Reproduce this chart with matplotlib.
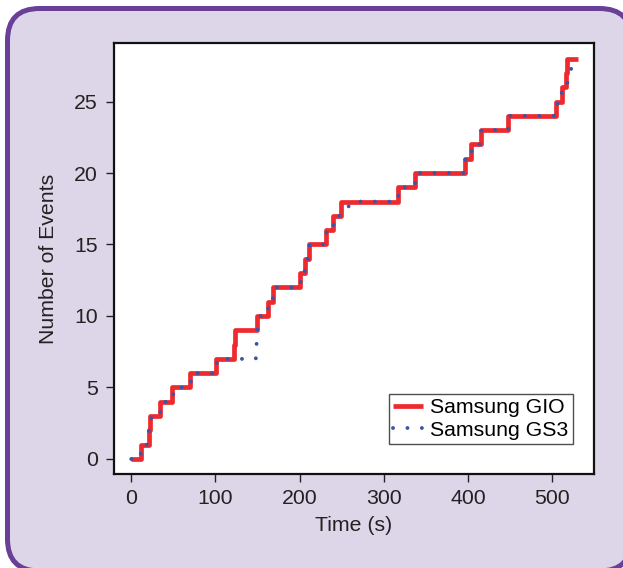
import numpy as np
import matplotlib
matplotlib.use('Agg')
import matplotlib.pyplot as plt
from matplotlib.patches import FancyBboxPatch

plt.rcParams['font.family'] = ['Liberation Sans', 'DejaVu Sans']

# event times of the Samsung GIO (one event per time)
gio_events = [11, 20.5, 22.5, 34, 49, 70, 101, 122.5, 123.5, 149.5, 162, 168,
              201, 206, 211.5, 231, 240, 249.5, 317, 337, 396.5, 403.5, 415.5,
              448, 505, 511.5, 517, 517.5]
gio_end = 530.5

# Samsung GS3 curve, read as vertices (time, count)
gs3_t = [0, 11, 12, 19, 21, 23, 24, 34, 36, 49, 51, 70, 72, 101, 102, 148, 150,
         153, 162, 163, 168, 169, 201, 202, 206, 207, 211, 212, 231, 232, 240,
         241, 251, 262, 317, 318, 337, 338, 396, 397, 404, 405, 415, 416, 448,
         449, 505, 507, 511, 512, 517, 526]
gs3_n = [0, 0, 1, 1, 2, 2, 3, 3, 4, 4, 5, 5, 6, 6, 7, 7, 9.2,
         10, 10, 11, 11, 12, 12, 13, 13, 14, 14, 15, 15, 16, 16,
         17, 17, 18, 18, 19, 19, 20, 20, 21, 21, 22, 22, 23, 23,
         24, 24, 25, 25, 26, 26, 28]

gio_t = np.concatenate([[0], gio_events, [gio_end]])
gio_n = np.concatenate([np.arange(len(gio_events) + 1), [len(gio_events)]])

fig = plt.figure(figsize=(6.23, 5.68), dpi=100, facecolor='white')

# rounded panel behind the chart
panel = FancyBboxPatch((0.075, -0.03), 6.24, 5.625,
                       boxstyle='round,pad=0,rounding_size=0.32',
                       transform=fig.dpi_scale_trans, facecolor='#ddd6e8',
                       edgecolor='#693f97', linewidth=3.6, zorder=-5)
fig.patches.append(panel)

ax = fig.add_axes([0.183, 0.1655, 0.7705, 0.7590])
ax.set_zorder(2)
ax.set_facecolor('white')

ax.plot(gio_t, gio_n, drawstyle='steps-post', color='#ee2a2e', lw=3.4,
        label='Samsung GIO', solid_capstyle='butt')
ax.plot(gs3_t, gs3_n, color='#3c55a5', lw=2.8, linestyle=(0, (0.01, 3.7)),
        dash_capstyle='round', label='Samsung GS3')

ax.set_xlim(-20.5, 550)
ax.set_ylim(-1.05, 29.1)
ax.set_xticks([0, 100, 200, 300, 400, 500])
ax.set_yticks([0, 5, 10, 15, 20, 25])
ax.tick_params(direction='out', length=5.5, width=1, pad=5, labelsize=15.3,
               colors='#222222')
ax.tick_params(axis='y', pad=6)
for s in ax.spines.values():
    s.set_linewidth(1.6)
    s.set_color('#111111')

ax.set_xlabel('Time (s)', fontsize=15.3, labelpad=6, color='#222222')
ax.set_ylabel('Number of Events', fontsize=15.3, labelpad=12, color='#222222')

leg = ax.legend(loc='lower right', bbox_to_anchor=(0.956, 0.07), borderaxespad=0,
                fontsize=15.3, frameon=True, fancybox=False, handlelength=1.4,
                handletextpad=0.35, labelspacing=0.15, borderpad=0.2)
leg.get_frame().set_edgecolor('#222222')
leg.get_frame().set_linewidth(1.0)

fig.savefig('out.png', dpi=100, facecolor=fig.get_facecolor())
